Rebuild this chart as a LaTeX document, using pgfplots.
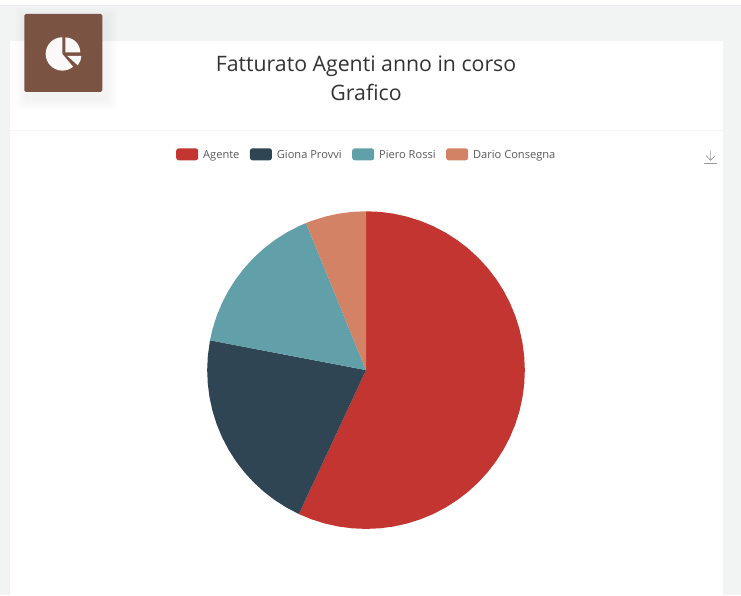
\documentclass[border=0pt]{standalone}
\usepackage{fontspec}
\setmainfont{Open Sans}
\usepackage{pgfplots}
\pgfplotsset{compat=1.18}
\definecolor{cRed}{HTML}{C23531}
\definecolor{cNavy}{HTML}{2F4554}
\definecolor{cTeal}{HTML}{61A0A8}
\definecolor{cOrange}{HTML}{D48265}
\definecolor{cBrown}{HTML}{7B5343}
\definecolor{cPage}{HTML}{F2F3F3}
\pgfplotsset{swatch/.style={legend image code/.code={\path[##1,rounded corners=2.5pt] (0pt,-2pt) rectangle (22pt,10pt);}}}
\begin{document}
\begin{tikzpicture}
\begin{scope}[x=1pt,y=-1pt,yshift=596pt]
  \fill[white] (0,0) rectangle (741,596);
  \fill[cPage] (0,5) rectangle (741,596);
  \draw[color=black!22!blue!8!white,line width=0.8pt] (0,5) -- (741,5);
  \fill[white] (10,41) rectangle (723,596);
  \draw[color=black!4,line width=0.8pt] (10,130.5) -- (723,130.5);
  % icon shadow
  \foreach \s in {12,10,8,6,4,2}{
    \fill[black,opacity=0.008,rounded corners=4pt] (24-\s+3,14-\s+6) rectangle (102+\s+3,92+\s+6);
  }
  \fill[cBrown,rounded corners=1.5pt] (24,14) rectangle (102,92);
  % download icon
  \draw[color=black!40,line width=0.7pt] (711,151) -- (711,160) (706.5,156) -- (711,160.5) -- (715.5,156);
  \draw[color=black!40,line width=0.7pt] (704.5,163.5) -- (717.5,163.5);
  \node[text=black!80,font=\fontsize{21.3}{24}\selectfont] at (366,66.5) {Fatturato Agenti anno in corso};
  \node[text=black!80,font=\fontsize{21.3}{24}\selectfont] at (366,93) {Grafico};
\end{scope}
\begin{scope}[x=1pt,y=1pt]
  % icon glyph
  \fill[white!96!cBrown] (62,542) -- (62,558.7) arc[start angle=90,end angle=310,radius=16.7] -- cycle;
  \fill[white!96!cBrown] (65,543.5) -- (80,543.5) arc[start angle=0,end angle=90,radius=15] -- cycle;
  \fill[white!96!cBrown] (67,540) -- (81,540) arc[start angle=0,end angle=-42,radius=14] -- cycle;
\end{scope}
\begin{axis}[
  at={(0pt,0pt)},anchor=south west,
  width=741pt,height=596pt,scale only axis,
  xmin=-366,xmax=375,ymin=-225.5,ymax=370.5,
  axis lines=none,clip=false,
  legend columns=4,
  legend style={at={(axis cs:-190,216)},anchor=west,draw=none,fill=none,inner sep=0pt,outer sep=0pt,
    font=\fontsize{11.1}{13}\selectfont,text=black!65,
    /tikz/every odd column/.append style={column sep=5pt},
    /tikz/every even column/.append style={column sep=10.5pt},
    nodes={inner sep=0pt,outer sep=0pt,anchor=base west}},
  legend cell align=left,
  swatch,
]
\addplot[data cs=polar,fill=cRed,draw=none] coordinates {(0,0)
 (90,159) (85,159) (80,159) (75,159) (70,159) (65,159) (60,159) (55,159) (50,159) (45,159) (40,159) (35,159) (30,159) (25,159) (20,159) (15,159) (10,159) (5,159) (0,159)
 (-5,159) (-10,159) (-15,159) (-20,159) (-25,159) (-30,159) (-35,159) (-40,159) (-45,159) (-50,159) (-55,159) (-60,159) (-65,159) (-70,159) (-75,159) (-80,159) (-85,159) (-90,159)
 (-95,159) (-100,159) (-105,159) (-110,159) (-115,159) (0,0)};
\addlegendentry{Agente}
\addplot[data cs=polar,fill=cNavy,draw=none] coordinates {(0,0)
 (-115,159) (-120,159) (-125,159) (-130,159) (-135,159) (-140,159) (-145,159) (-150,159) (-155,159) (-160,159) (-165,159) (-170,159) (-175,159) (-180,159) (-185,159) (-190.8,159) (0,0)};
\addlegendentry{Giona Provvi}
\addplot[data cs=polar,fill=cTeal,draw=none] coordinates {(0,0)
 (-190.8,159) (-195,159) (-200,159) (-205,159) (-210,159) (-215,159) (-220,159) (-225,159) (-230,159) (-235,159) (-240,159) (-245,159) (-247.8,159) (0,0)};
\addlegendentry{Piero Rossi}
\addplot[data cs=polar,fill=cOrange,draw=none] coordinates {(0,0)
 (-247.8,159) (-250,159) (-255,159) (-260,159) (-265,159) (-270,159) (0,0)};
\addlegendentry{Dario Consegna}
\end{axis}
\end{tikzpicture}
\end{document}
